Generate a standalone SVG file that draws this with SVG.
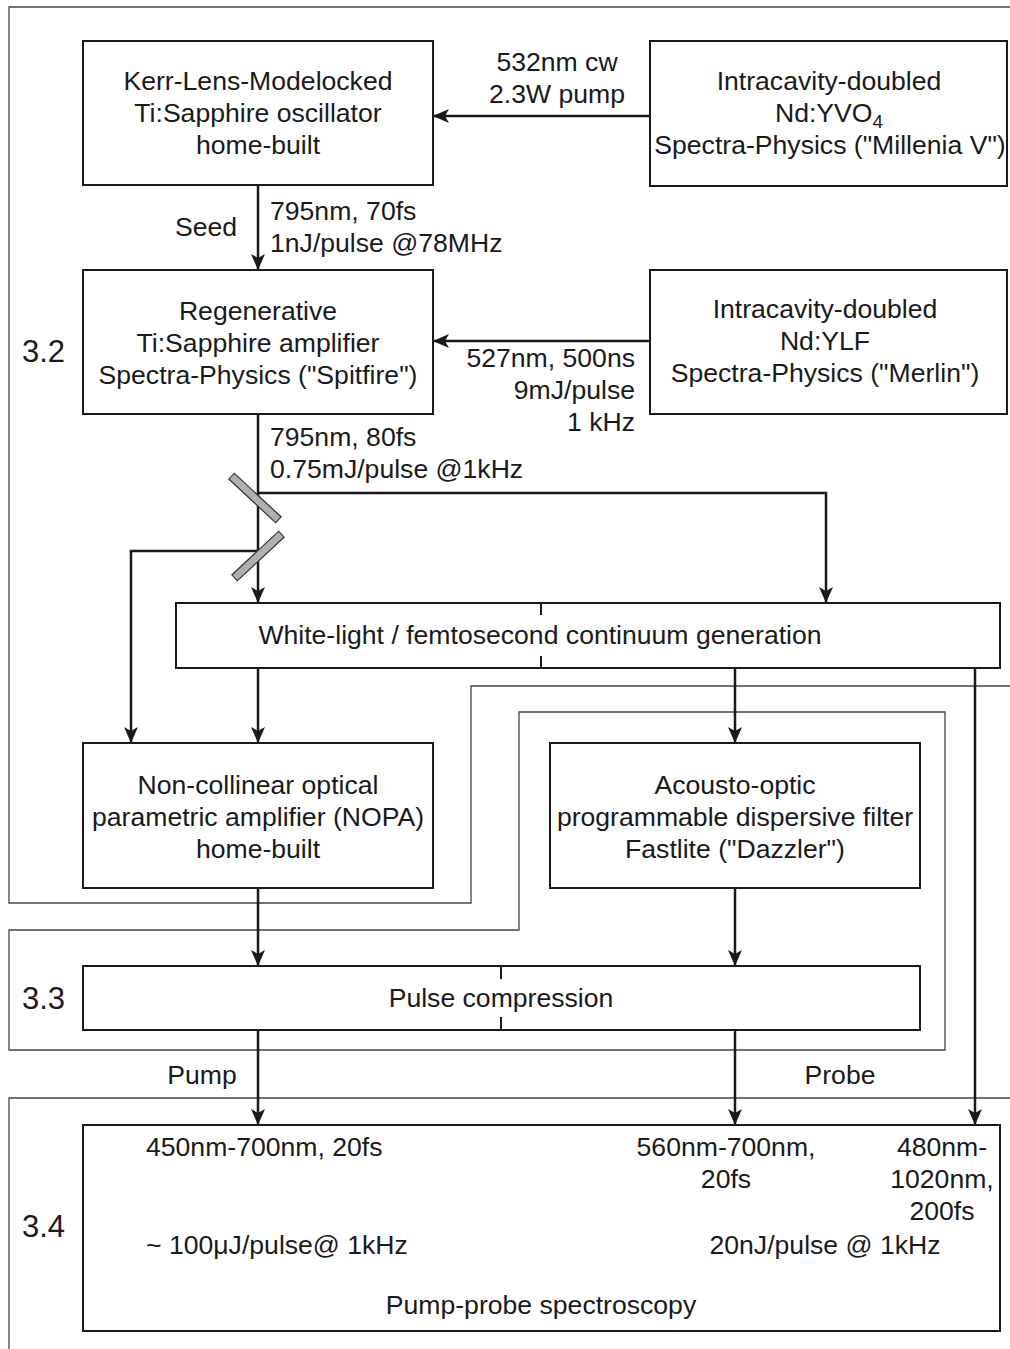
<svg xmlns="http://www.w3.org/2000/svg" width="1010" height="1349" viewBox="0 0 1010 1349">
<defs>
<marker id="ah" markerWidth="16" markerHeight="14" refX="15" refY="7" orient="auto" markerUnits="userSpaceOnUse">
<path d="M0,0 L16,7 L0,14 L4,7 Z" fill="#1a1a1a"/>
</marker>
</defs>
<style>
.box{fill:#fff;stroke:#1a1a1a;stroke-width:2}
.sec{fill:none;stroke:#444;stroke-width:1.3}
.c{fill:none;stroke:#1a1a1a;stroke-width:2.5}
.a{fill:none;stroke:#1a1a1a;stroke-width:2.5;marker-end:url(#ah)}
.tick{stroke:#1a1a1a;stroke-width:2}
text{font-family:"Liberation Sans",Arial,sans-serif;font-size:26.6px;fill:#1a1a1a}
.m{text-anchor:middle}
.e{text-anchor:end}
.s{font-size:31px}
.mir{fill:#b0b0b0;stroke:#333;stroke-width:1.2}
</style>
<rect width="1010" height="1349" fill="#fff"/>
<g id="sections">
<path class="sec" d="M1010,7 H9 V903 H471 V686 H1010"/>
<path class="sec" d="M519,930 V712 H945 V1050 H9 V930 Z"/>
<path class="sec" d="M1010,1098 H9 V1349"/>
<text class="s" x="22" y="362">3.2</text>
<text class="s" x="22" y="1009">3.3</text>
<text class="s" x="22" y="1237">3.4</text>
</g>
<g id="connectors">
<line class="a" x1="650" y1="116" x2="434" y2="116"/>
<line class="a" x1="258" y1="185" x2="258" y2="269"/>
<line class="a" x1="650" y1="341" x2="434" y2="341"/>
<line class="a" x1="258" y1="414" x2="258" y2="602"/>
<polyline class="a" points="258,493 826,493 826,602"/>
<polyline class="a" points="258,551 131,551 131,742"/>
<line class="a" x1="258" y1="668" x2="258" y2="742"/>
<line class="a" x1="735" y1="668" x2="735" y2="742"/>
<line class="a" x1="975" y1="668" x2="975" y2="1124"/>
<line class="a" x1="258" y1="888" x2="258" y2="965"/>
<line class="a" x1="735" y1="888" x2="735" y2="965"/>
<line class="a" x1="258" y1="1030" x2="258" y2="1124"/>
<line class="a" x1="735" y1="1030" x2="735" y2="1124"/>
<text class="m" x="557" y="71">532nm cw</text>
<text class="m" x="557" y="103">2.3W pump</text>
<text x="175" y="236">Seed</text>
<text x="270" y="220">795nm, 70fs</text>
<text x="270" y="252">1nJ/pulse @78MHz</text>
<text class="e" x="635" y="367">527nm, 500ns</text>
<text class="e" x="635" y="399">9mJ/pulse</text>
<text class="e" x="635" y="431">1 kHz</text>
<text x="270" y="446">795nm, 80fs</text>
<text x="270" y="478">0.75mJ/pulse @1kHz</text>
<text class="m" x="202" y="1084">Pump</text>
<text class="m" x="840" y="1084">Probe</text>
</g>
<g id="mirror1"><rect class="mir" x="223" y="494" width="64" height="8" transform="rotate(43 255 498)"/></g>
<g id="mirror2"><rect class="mir" x="226" y="552" width="64" height="8" transform="rotate(-43 258 556)"/></g>
<g id="oscillator">
<rect class="box" x="83" y="41" width="350" height="144"/>
<text class="m" x="258" y="90">Kerr-Lens-Modelocked</text>
<text class="m" x="258" y="122">Ti:Sapphire oscillator</text>
<text class="m" x="258" y="154">home-built</text>
</g>
<g id="millenia">
<rect class="box" x="650" y="41" width="357" height="145"/>
<text class="m" x="829" y="90">Intracavity-doubled</text>
<text class="m" x="829" y="122">Nd:YVO<tspan font-size="19" dy="6">4</tspan></text>
<text class="m" x="830" y="154">Spectra-Physics ("Millenia V")</text>
</g>
<g id="regen">
<rect class="box" x="83" y="270" width="350" height="144"/>
<text class="m" x="258" y="320">Regenerative</text>
<text class="m" x="258" y="352">Ti:Sapphire amplifier</text>
<text class="m" x="258" y="384">Spectra-Physics ("Spitfire")</text>
</g>
<g id="merlin">
<rect class="box" x="650" y="270" width="357" height="144"/>
<text class="m" x="825" y="318">Intracavity-doubled</text>
<text class="m" x="825" y="350">Nd:YLF</text>
<text class="m" x="825" y="382">Spectra-Physics ("Merlin")</text>
</g>
<g id="whitelight">
<rect class="box" x="176" y="603" width="824" height="65"/>
<line class="tick" x1="541" y1="603" x2="541" y2="615"/>
<line class="tick" x1="541" y1="656" x2="541" y2="668"/>
<text class="m" x="540" y="644">White-light / femtosecond continuum generation</text>
</g>
<g id="nopa">
<rect class="box" x="83" y="743" width="350" height="145"/>
<text class="m" x="258" y="794">Non-collinear optical</text>
<text class="m" x="258" y="826">parametric amplifier (NOPA)</text>
<text class="m" x="258" y="858">home-built</text>
</g>
<g id="dazzler">
<rect class="box" x="550" y="743" width="370" height="145"/>
<text class="m" x="735" y="794">Acousto-optic</text>
<text class="m" x="735" y="826">programmable dispersive filter</text>
<text class="m" x="735" y="858">Fastlite ("Dazzler")</text>
</g>
<g id="compression">
<rect class="box" x="83" y="966" width="837" height="64"/>
<line class="tick" x1="501" y1="966" x2="501" y2="979"/>
<line class="tick" x1="501" y1="1017" x2="501" y2="1030"/>
<text class="m" x="501" y="1007">Pulse compression</text>
</g>
<g id="spectroscopy">
<rect class="box" x="83" y="1125" width="917" height="206"/>
<text x="146" y="1156">450nm-700nm, 20fs</text>
<text x="146" y="1254">~ 100μJ/pulse@ 1kHz</text>
<text class="m" x="726" y="1156">560nm-700nm,</text>
<text class="m" x="726" y="1188">20fs</text>
<text class="m" x="942" y="1156">480nm-</text>
<text class="m" x="942" y="1188">1020nm,</text>
<text class="m" x="942" y="1220">200fs</text>
<text class="m" x="825" y="1254">20nJ/pulse @ 1kHz</text>
<text class="m" x="541" y="1314">Pump-probe spectroscopy</text>
</g>
</svg>
